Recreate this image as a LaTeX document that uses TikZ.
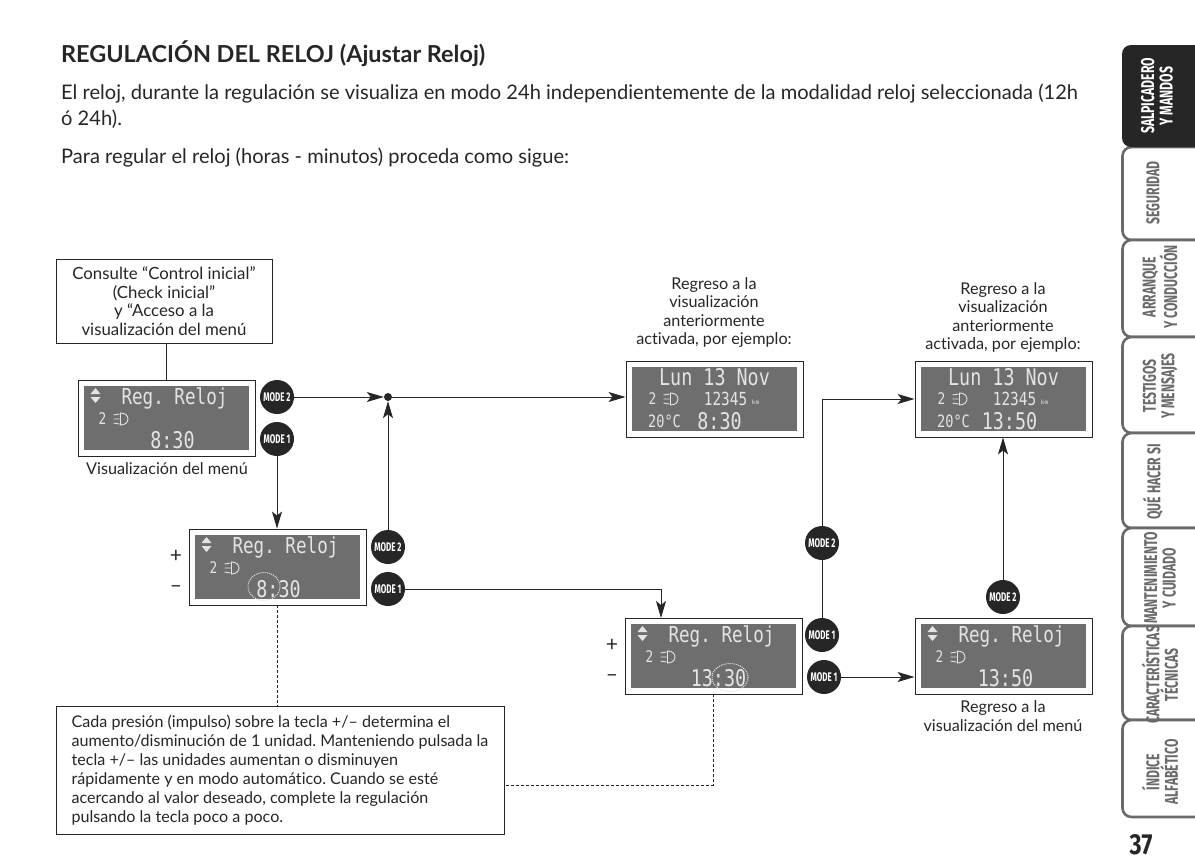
\documentclass[tikz,border=0pt]{standalone}
\usepackage{fontspec}
\setmainfont{Lato}[Ligatures={NoCommon}]
\newfontfamily\lcdfont{DejaVu Sans Mono}
\newfontfamily\tabfont{Fira Sans}
\usetikzlibrary{arrows.meta}
\definecolor{ink}{HTML}{262626}
\definecolor{lcdgrey}{HTML}{6E6E6E}
\definecolor{lcdtext}{HTML}{E4E4E4}
\definecolor{tabline}{HTML}{6A6A6A}
\newcommand{\fsize}[1]{\fontsize{#1}{#1}\selectfont}
\newcommand{\lcdtxt}[2]{\lcdfont\fsize{#1}\scalebox{.8}[1]{#2}}
\newcommand{\tabtxt}[1]{\tabfont\bfseries\fsize{18.5}\scalebox{.66}[1]{#1}}
\newcommand{\btntxt}[1]{\tabfont\bfseries\fsize{12.5}\scalebox{.64}[1]{MODE #1}}
\tikzset{
  every node/.style={text=ink},
  frame/.style={draw=ink, line width=.9pt, fill=white, minimum width=177pt, minimum height=76pt, inner sep=0pt},
  screen/.style={fill=lcdgrey, minimum width=165pt, minimum height=64pt, inner sep=0pt},
  lcd/.style={text=lcdtext, inner sep=0pt},
  badge/.style={circle, fill=ink, minimum size=34pt, inner sep=0pt, text=white},
  blackdot/.style={circle, fill=ink, minimum size=8pt, inner sep=0pt},
  caption/.style={align=center, font=\fontsize{16.2}{18.6}\selectfont, inner sep=0pt},
  sign/.style={font=\fsize{21}, inner sep=0pt},
  notebox/.style={draw=ink, line width=.8pt, fill=white, inner sep=0pt},
  link/.style={draw=ink, line width=1pt},
  flow/.style={link, -{Stealth[length=17pt, width=10pt, inset=4pt]}},
  dots/.style={draw=ink, line width=.8pt, densely dashed},
  tabbox/.style={draw=tabline, line width=2.6pt, fill=white, rounded corners=9pt},
  tablabel/.style={rotate=90, align=center, text=tabline, inner sep=0pt, font=\fontsize{18.5}{18.5}\selectfont},
}
% lamp symbol and the digit in front of it
\newcommand{\lamp}[2]{%
  \node[lcd] at (#1,#2) {\lcdtxt{16}{2}};
  \draw[lcdtext, line width=.9pt] (#1+18,#2-6) .. controls (#1+28,#2-6) and (#1+28,#2+6) .. (#1+18,#2+6) -- cycle
     (#1+11,#2-4) -- (#1+17,#2-5) (#1+11,#2) -- (#1+17,#2) (#1+11,#2+4) -- (#1+17,#2+5);
}
% menu screen: name, centre, x of title, x of time, time
\newcommand{\menupanel}[6]{%
  \node[frame] (#1) at (#2,#3) {};
  \node[screen] at (#1) {};
  \begin{scope}[shift={(#1.center)}]
    \fill[lcdtext] (-76,-24) -- (-71,-30) -- (-66,-24) -- cycle (-76,-21) -- (-71,-15) -- (-66,-21) -- cycle;
    \node[lcd] at (#4,-20) {\lcdtxt{22}{Reg. Reloj}};
    \lamp{-64}{1}
    \node[lcd] at (#5,22) {\lcdtxt{23}{#6}};
  \end{scope}
}
% info screen: name, centre, x of time, time
\newcommand{\infopanel}[5]{%
  \node[frame] (#1) at (#2,#3) {};
  \node[screen] at (#1) {};
  \begin{scope}[shift={(#1.center)}]
    \node[lcd] at (0,-22) {\lcdtxt{23}{Lun 13 Nov}};
    \lamp{-62}{0}
    \node[lcd] at (11,0) {\lcdtxt{18}{12345}};
    \node[lcd] at (41,3) {\lcdfont\fsize{6}km};
    \node[lcd] at (-50,22) {\lcdtxt{17}{20°C}};
    \node[lcd] at (#4,22) {\lcdtxt{23}{#5}};
  \end{scope}
}
\begin{document}
\frenchspacing
\begin{tikzpicture}[x=1pt, y=-1pt]
\useasboundingbox (0,0) rectangle (1195,865);

% heading and text
\node[anchor=base west, inner sep=0pt, font=\bfseries\fsize{23.4}] (title) at (61,62) {REGULACIÓN DEL RELOJ (Ajustar Reloj)};
\node[anchor=base west, inner sep=0pt, font=\fsize{20.1}] (bodyA) at (61,99) {El reloj, durante la regulación se visualiza en modo 24h independientemente de la modalidad reloj seleccionada (12h};
\node[anchor=base west, inner sep=0pt, font=\fsize{20.1}] (bodyB) at (61,125) {ó 24h).};
\node[anchor=base west, inner sep=0pt, font=\fsize{20.1}] (bodyC) at (61,163) {Para regular el reloj (horas - minutos) proceda como sigue:};

% boxes
\node[notebox, minimum width=216pt, minimum height=84pt, align=center, font=\fontsize{16.8}{18.6}\selectfont] (check) at (164,301)
  {Consulte “Control inicial”\\(Check inicial”\\y “Acceso a la\\visualización del menú};
\node[notebox, minimum width=448pt, minimum height=128pt, align=left, font=\fontsize{16.1}{19}\selectfont] (note) at (280,770)
  {Cada presión (impulso) sobre la tecla +/– determina el\\aumento/disminución de 1 unidad. Manteniendo pulsada la\\tecla +/– las unidades aumentan o disminuyen\\rápidamente y en modo automático. Cuando se esté\\acercando al valor deseado, complete la regulación\\pulsando la tecla poco a poco.};

% screens
\menupanel{menuA}{166.5}{418}{8}{6}{8:30}
\menupanel{setA}{277.5}{567}{8}{1}{8:30}
\menupanel{setB}{713.5}{656}{8}{5}{13:30}
\menupanel{menuB}{1003.5}{656}{8}{2}{13:50}
\infopanel{infoA}{714.5}{399}{5}{8:30}
\infopanel{infoB}{1003.5}{399}{6}{13:50}

% blinking digits
\draw[lcdtext, densely dotted, line width=1pt] (setA.center) ++(-13.5,19.5) ellipse (16 and 14);
\draw[lcdtext, densely dotted, line width=1pt] (setB.center) ++(16.5,21.5) ellipse (18 and 14);

% captions
\node[caption] (capA) at (167,469) {Visualización del menú};
\node[caption] (capB) at (1003,716) {Regreso a la\\visualización del menú};
\node[caption, anchor=south] (capC) at (714,348) {Regreso a la\\visualización\\anteriormente\\activada, por ejemplo:};
\node[caption, anchor=south] (capD) at (1003,353) {Regreso a la\\visualización\\anteriormente\\activada, por ejemplo:};

\node[sign] (plusA) at (176,556) {+};
\node[sign] (minusA) at (176,589) {–};
\node[sign] (plusB) at (612,645) {+};
\node[sign] (minusB) at (612,678) {–};

% buttons
\node[badge] (modeA) at (277,397) {\btntxt{2}};
\node[badge] (modeB) at (277,439) {\btntxt{1}};
\node[badge] (modeC) at (388,547) {\btntxt{2}};
\node[badge] (modeD) at (388,589) {\btntxt{1}};
\node[badge] (modeE) at (822,543) {\btntxt{2}};
\node[badge] (modeF) at (822,635) {\btntxt{1}};
\node[badge] (modeG) at (824,677) {\btntxt{1}};
\node[badge] (modeH) at (1003,597) {\btntxt{2}};
\node[blackdot] (join) at (388,397) {};

% connectors
\draw[link] (check.south -| menuA) -- (menuA.north);
\draw[flow] (modeA) -- (join);
\draw[flow] (join) -- (infoA.west |- join);
\draw[flow] (modeB) -- (modeB |- setA.north);
\draw[flow] (modeC) -- (join);
\draw[flow] (modeD) -| (661,618);
\draw[link] (modeF) -- (modeE);
\draw[flow] (modeE) |- (infoB.west);
\draw[flow] (modeG) -- (modeG -| menuB.west);
\draw[flow] (modeH) -- (modeH |- infoB.south);
\draw[dots] (setA.south) -- (setA.south |- note.north);
\coordinate (noteturn) at (setB.south |- 0,785);
\draw[dots] (setB.south) -- (noteturn) -- (noteturn -| note.east);

% side tabs
\draw[tabbox] (1205,147) -- (1122.5,147) -- (1122.5,240) -- (1205,240);
\draw[tabbox] (1205,240) -- (1122.5,240) -- (1122.5,337) -- (1205,337);
\draw[tabbox] (1205,337) -- (1122.5,337) -- (1122.5,433) -- (1205,433);
\draw[tabbox] (1205,433) -- (1122.5,433) -- (1122.5,528) -- (1205,528);
\draw[tabbox] (1205,528) -- (1122.5,528) -- (1122.5,626) -- (1205,626);
\draw[tabbox] (1205,626) -- (1122.5,626) -- (1122.5,720) -- (1205,720);
\draw[tabbox] (1205,720) -- (1122.5,720) -- (1122.5,817) -- (1205,817);
\fill[ink, rounded corners=9pt] (1205,45) -- (1122,45) -- (1122,147) -- (1205,147) -- cycle;

\node[tablabel, text=white] (tabA) at (1157,96) {\tabtxt{SALPICADERO}\\\tabtxt{Y MANDOS}};
\node[tablabel] (tabB) at (1153,193) {\tabtxt{SEGURIDAD}};
\node[tablabel] (tabC) at (1160,287) {\tabtxt{ARRANQUE}\\\tabtxt{Y CONDUCCIÓN}};
\node[tablabel] (tabD) at (1160,386) {\tabtxt{TESTIGOS}\\\tabtxt{Y MENSAJES}};
\node[tablabel] (tabE) at (1153,482) {\tabtxt{QUÉ HACER SI}};
\node[tablabel] (tabF) at (1160,578) {\tabtxt{MANTENIMIENTO}\\\tabtxt{Y CUIDADO}};
\node[tablabel] (tabG) at (1160,675) {\tabtxt{CARACTERÍSTICAS}\\\tabtxt{TÉCNICAS}};
\node[tablabel] (tabH) at (1160,772) {\tabtxt{ÍNDICE}\\\tabtxt{ALFABÉTICO}};
\node[inner sep=0pt, font=\tabfont\bfseries\fsize{29}] (pageno) at (1141,845) {\scalebox{.8}[1]{37}};
\end{tikzpicture}
\end{document}
